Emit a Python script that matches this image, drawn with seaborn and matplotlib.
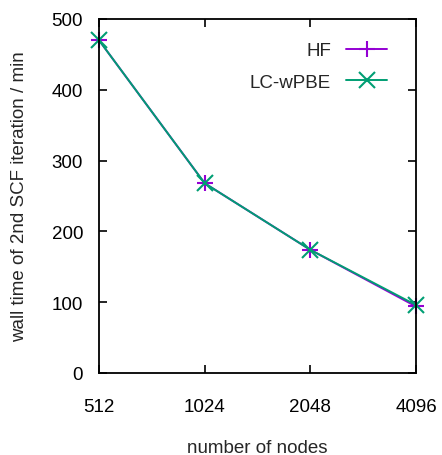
import matplotlib
matplotlib.use("Agg")
import matplotlib.pyplot as plt
import seaborn as sns
import pandas as pd
from matplotlib.ticker import FixedLocator, NullLocator
from matplotlib.lines import Line2D

nodes = [512, 1024, 2048, 4096]
hf = [470, 268, 174, 94]
lc_wpbe = [470, 268, 174, 96]
methods = ["HF", "LC-wPBE"]
x_ticks = [512, 1024, 2048, 4096]
x_tick_labels = ["512", "1024", "2048", "4096"]
y_ticks = [0, 100, 200, 300, 400, 500]

sns.set_style("ticks")
plt.rcParams['font.family'] = ['Liberation Sans', 'DejaVu Sans']
FS = 13.5

series = {"HF": hf, "LC-wPBE": lc_wpbe}
palette = {"HF": "#9400D3", "LC-wPBE": "#009E73"}
markers = {"HF": "+", "LC-wPBE": "x"}

fig = plt.figure(figsize=(4.42, 4.56), dpi=100)
ax = fig.add_axes([99/442, 1 - 374/456, (416-99)/442, (374-20)/456])

for m in methods:
    df = pd.DataFrame({"nodes": nodes, "time": series[m]})
    sns.lineplot(data=df, x="nodes", y="time", color=palette[m], marker=markers[m],
                 markeredgecolor=palette[m], markersize=12, markeredgewidth=1.5,
                 linewidth=1.4, ax=ax, legend=False, clip_on=False)

ax.set_xscale("log", base=2)
ax.set_xlim(512, 4096)
ax.set_ylim(0, 500)
ax.xaxis.set_major_locator(FixedLocator(x_ticks))
ax.xaxis.set_minor_locator(NullLocator())
ax.set_xticklabels(x_tick_labels)
ax.set_yticks(y_ticks)
ax.tick_params(direction="in", length=6, width=1.2, top=True, right=True,
               labelsize=FS, colors="black")
ax.tick_params(axis="x", pad=18)
ax.tick_params(axis="y", pad=11.5)
for s in ax.spines.values():
    s.set_linewidth(1.3)
    s.set_color("black")
ax.set_xlabel("number of nodes", fontsize=FS, labelpad=17)
ax.set_ylabel("wall time of 2nd SCF iteration / min", fontsize=FS, labelpad=17)

handles = [Line2D([], [], color=palette[m], marker=markers[m], markersize=12,
                  markeredgewidth=1.5, linewidth=1.4) for m in methods]
ax.legend(handles, methods, loc="upper right", frameon=False, markerfirst=False,
          fontsize=FS, handlelength=2.2, handletextpad=0.8, labelspacing=0.76,
          bbox_to_anchor=(0.909, 0.934), borderpad=0, borderaxespad=0)

fig.savefig("out.png", dpi=100)
